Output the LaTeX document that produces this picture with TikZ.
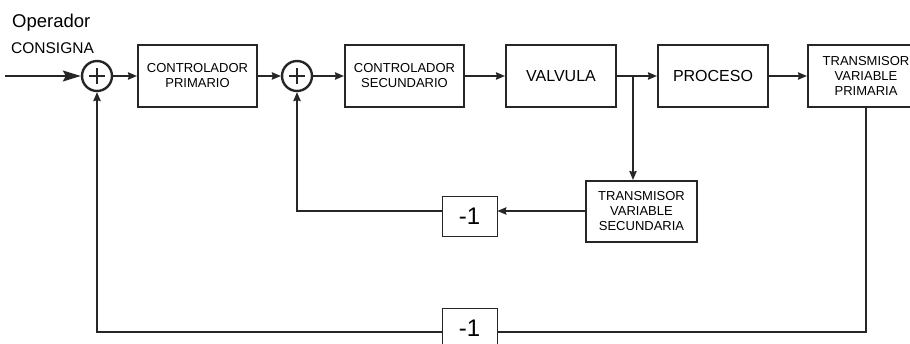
\documentclass[tikz,border=0pt]{standalone}
\usepackage{fontspec}
\setmainfont{Liberation Sans}
\usetikzlibrary{arrows.meta,calc}
\colorlet{ink}{black!85}
\tikzset{
  wire/.style={ink, line width=1.3pt},
  tip/.style={wire, -{Stealth[length=9pt,width=7.5pt,inset=1pt]}},
  bigtip/.style={wire, -{Stealth[length=18pt,width=11pt,inset=3pt]}},
  block/.style={draw=ink, line width=2.2pt, minimum width=119pt, minimum height=62pt,
    inner sep=0pt, align=center, font=\fontsize{13}{15}\selectfont},
  bigblock/.style={block, minimum width=110pt, font=\fontsize{16}{18}\selectfont},
  gain/.style={draw=ink, line width=0.9pt, minimum width=55pt, minimum height=40pt,
    inner sep=0pt, font=\fontsize{24}{26}\selectfont},
  sum/.style={circle, draw=ink, line width=2.4pt, minimum size=30pt, inner sep=0pt,
    path picture={\draw[ink, line width=2.7pt] (path picture bounding box.center) ++(-8pt,0) -- ++(16pt,0)
      (path picture bounding box.center) ++(0,-8pt) -- ++(0,16pt);}}
}

\begin{document}
\begin{tikzpicture}[x=1pt, y=-1pt]
\useasboundingbox (0,0) rectangle (910,344);
\node[anchor=base west, inner sep=0pt, font=\fontsize{18.5}{20}\selectfont] (op) at (12,28) {Operador};
\node[anchor=base west, inner sep=0pt, font=\fontsize{15.5}{18}\selectfont] (cons) at (11,54) {CONSIGNA};
\node[sum] (s1) at (97,76) {};
\node[block] (cp) at (197.5,76) {CONTROLADOR\\PRIMARIO};
\node[sum] (s2) at (297,76) {};
\node[block] (cs) at (404.5,76) {CONTROLADOR\\SECUNDARIO};
\node[bigblock] (val) at (561,76) {VALVULA};
\node[bigblock] (proc) at (713,76) {PROCESO};
\node[block, minimum width=116pt] (tvp) at (866,76) {TRANSMISOR\\VARIABLE\\PRIMARIA};
\node[block, minimum width=111pt, minimum height=61pt] (tvs) at (641.5,211.5) {TRANSMISOR\\VARIABLE\\SECUNDARIA};
\node[gain] (g2) at (469.5,216.5) {-1};
\node[gain] (g1) at (469.5,328) {-1};
\coordinate (in) at (5,76);
\coordinate (br) at (633,76);
\coordinate (mid) at (0,211);
\coordinate (low) at (0,332);
\draw[bigtip] (in) -- (s1.west);
\draw[tip] (s1.east) -- (cp.west);
\draw[tip] (cp.east) -- (s2.west);
\draw[tip] (s2.east) -- (cs.west);
\draw[tip] (cs.east) -- (val.west);
\draw[tip] (val.east) -- (proc.west);
\draw[tip] (proc.east) -- (tvp.west);
\draw[tip] (br) -- (br |- tvs.north);
\draw[tip] (tvs.west |- mid) -- (g2.east |- mid);
\draw[tip] (g2.west |- mid) -| (s2.south);
\draw[wire] (tvp.south) |- (g1.east |- low);
\draw[tip] (g1.west |- low) -| (s1.south);
\end{tikzpicture}
\end{document}
